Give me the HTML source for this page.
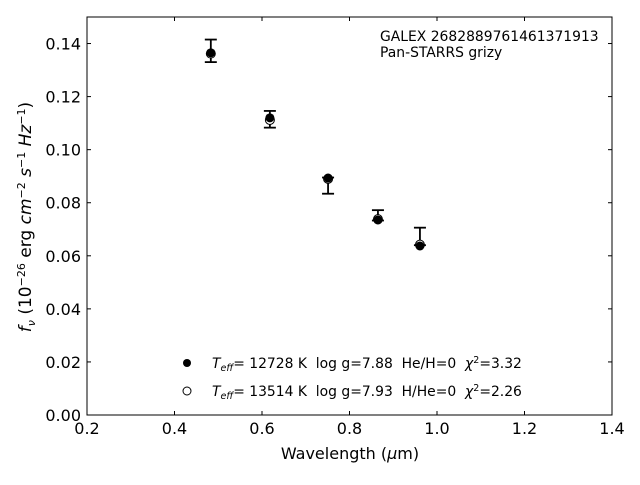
<!DOCTYPE html>
<html><head><meta charset="utf-8"><style>
body{margin:0;background:#fff;}
svg text{font-family:"DejaVu Sans","Liberation Sans",sans-serif;fill:#000;white-space:pre;}
</style></head><body>
<svg id="chart" width="640" height="480" xmlns="http://www.w3.org/2000/svg">
<rect x="87" y="17" width="525" height="398" fill="none" stroke="#000" stroke-width="1"/>
<g id="ticks"></g>
<g id="marks"></g>
<text x="380" y="41" font-size="13.9">GALEX 2682889761461371913</text>
<text x="380" y="57" font-size="13.9">Pan-STARRS grizy</text>
<text x="350" y="459" font-size="16" text-anchor="middle">Wavelength (<tspan font-style="italic">μ</tspan>m)</text>
<text transform="translate(31,217) rotate(-90)" font-size="17" text-anchor="middle"><tspan font-style="italic">f<tspan font-size="11" dy="4">ν</tspan></tspan><tspan dy="-4"> (10</tspan><tspan font-size="11" dy="-6">−26</tspan><tspan dy="6"> erg </tspan><tspan font-style="italic">cm</tspan><tspan font-size="11" dy="-6">−2</tspan><tspan dy="6"> </tspan><tspan font-style="italic">s</tspan><tspan font-size="11" dy="-6">−1</tspan><tspan dy="6"> </tspan><tspan font-style="italic">Hz</tspan><tspan font-size="11" dy="-6">−1</tspan><tspan dy="6">)</tspan></text>
<g>
<circle cx="187" cy="363" r="4" fill="#000"/>
<text x="212" y="368" font-size="13.9"><tspan font-style="italic">T<tspan font-size="9.5" dy="3">eff</tspan></tspan><tspan dy="-3">= 12728 K  log g=7.88  He/H=0  </tspan><tspan font-style="italic">χ</tspan><tspan font-size="9.5" dy="-5">2</tspan><tspan dy="5">=3.32</tspan></text>
<circle cx="187" cy="391" r="4" fill="#fff" stroke="#000" stroke-width="1"/>
<text x="212" y="396" font-size="13.9"><tspan font-style="italic">T<tspan font-size="9.5" dy="3">eff</tspan></tspan><tspan dy="-3">= 13514 K  log g=7.93  H/He=0  </tspan><tspan font-style="italic">χ</tspan><tspan font-size="9.5" dy="-5">2</tspan><tspan dy="5">=2.26</tspan></text>
</g>
</svg>
<script>
const bands = ["g","r","i","z","y"];
const wavelengths = [0.483, 0.618, 0.751, 0.865, 0.961];
const errHigh = [0.1415, 0.1146, 0.0895, 0.0772, 0.0706];
const errLow = [0.1330, 0.1083, 0.0834, 0.0733, 0.0640];
const modelHeH = [0.1365, 0.1120, 0.0893, 0.0735, 0.0637];
const modelHHe = [0.1362, 0.1112, 0.0890, 0.0738, 0.0642];
const xTicks = [0.2,0.4,0.6,0.8,1.0,1.2,1.4];
const yTicks = [0,0.02,0.04,0.06,0.08,0.10,0.12,0.14];
const xTickLabels = ["0.2","0.4","0.6","0.8","1.0","1.2","1.4"];
const yTickLabels = ["0.00","0.02","0.04","0.06","0.08","0.10","0.12","0.14"];

const NS="http://www.w3.org/2000/svg";
const X=v=>87+(v-0.2)/1.2*525;
const Y=v=>415-v/0.15*398;
function mk(tag,attrs,parent){const e=document.createElementNS(NS,tag);for(const k in attrs)e.setAttribute(k,attrs[k]);parent.appendChild(e);return e;}
const T=document.getElementById('ticks'), M=document.getElementById('marks');
xTicks.forEach((v,i)=>{
  const x=X(v);
  let l=mk('line',{x1:x,x2:x,y1:415,y2:411,stroke:'#000'},T);
  
  
  l=mk('line',{x1:x,x2:x,y1:17,y2:21,stroke:'#000'},T);
  
  
  const t=mk('text',{x:x,y:434,'font-size':16,'text-anchor':'middle'},T);
  t.textContent=xTickLabels[i];
  
  
});
yTicks.forEach((v,i)=>{
  const y=Y(v);
  let l=mk('line',{x1:87,x2:91,y1:y,y2:y,stroke:'#000'},T);
  
  
  l=mk('line',{x1:612,x2:608,y1:y,y2:y,stroke:'#000'},T);
  
  
  const t=mk('text',{x:81,y:y+6,'font-size':16,'text-anchor':'end'},T);
  t.textContent=yTickLabels[i];
  
  
});
wavelengths.forEach((w,i)=>{
  const x=X(w), y1=Y(errHigh[i]), y2=Y(errLow[i]);
  const g=mk('g',{},M);
  
  
  mk('line',{x1:x,x2:x,y1:y1,y2:y2,stroke:'#000','stroke-width':1.8},g);
  mk('line',{x1:x-6,x2:x+6,y1:y1,y2:y1,stroke:'#000','stroke-width':1.8},g);
  mk('line',{x1:x-6,x2:x+6,y1:y2,y2:y2,stroke:'#000','stroke-width':1.8},g);
  const o=mk('circle',{cx:x,cy:Y(modelHHe[i]),r:4.5,fill:'#fff',stroke:'#000'},M);
  
  
  const f=mk('circle',{cx:x,cy:Y(modelHeH[i]),r:4.5,fill:'#000'},M);
  
  
});
</script>
</body></html>
